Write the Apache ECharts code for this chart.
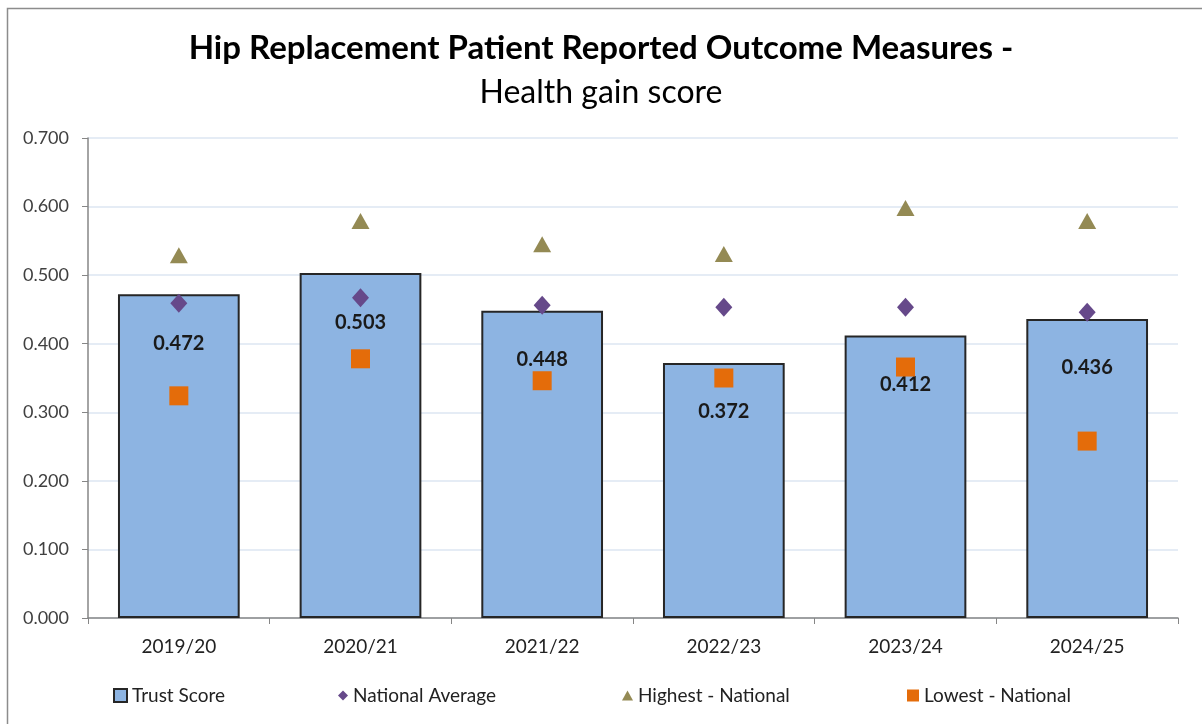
<!DOCTYPE html>
<html><head><meta charset="utf-8">
<script src="https://cdn.jsdelivr.net/npm/echarts@6/dist/echarts.min.js"></script>
<style>html,body{margin:0;padding:0;background:#fff}#c{width:1202px;height:724px}</style>
</head><body><div id="c"></div>
<script>
const categories = ['2019/20','2020/21','2021/22','2022/23','2023/24','2024/25'];
const trustScore = [0.472, 0.503, 0.448, 0.372, 0.412, 0.436];
const nationalAverage = [0.459, 0.467, 0.456, 0.453, 0.453, 0.446];
const highestNational = [0.529, 0.579, 0.545, 0.531, 0.598, 0.579];
const lowestNational = [0.324, 0.378, 0.346, 0.350, 0.366, 0.258];
const yTicks = [0, 0.1, 0.2, 0.3, 0.4, 0.5, 0.6, 0.7];

const font = 'Lato';
const chart = echarts.init(document.getElementById('c'));
function leg(name, icon, left, w, h) {
  return { data:[{name, icon}], left, top: 681, itemWidth: w, itemHeight: h, itemGap: 6,
    textStyle:{fontFamily:font, fontSize:19, color:'#222'}, selectedMode:false };
}
chart.setOption({
  animation:false,
  graphic:[{type:'rect', shape:{x:7.5,y:8.5,width:1200,height:720}, style:{fill:'none', stroke:'#8c8c8c', lineWidth:1.5}}],
  title:[
    {text:'Hip Replacement Patient Reported Outcome Measures -', left:'center', top:27, textStyle:{fontFamily:font, fontWeight:'bold', fontSize:33, color:'#000'}},
    {text:'Health gain score', left:'center', top:72, textStyle:{fontFamily:font, fontWeight:'normal', fontSize:32, color:'#000'}}
  ],
  legend:[
    leg('Trust Score','rect',108,13,13),
    leg('National Average','diamond',333,10,10),
    leg('Highest - National','triangle',617,11,10),
    leg('Lowest - National','rect',902,12,12)
  ],
  grid:{left:88, right:24, top:138, bottom:106},
  xAxis:{type:'category', data:categories,
    axisLine:{lineStyle:{color:'#868686', width:1.5}},
    axisTick:{show:true, length:6, lineStyle:{color:'#868686'}},
    axisLabel:{fontFamily:font, fontSize:19, color:'#222', margin:19}},
  yAxis:{type:'value', min:0, max:0.7, interval:0.1,
    axisLine:{show:true, lineStyle:{color:'#868686', width:1.5}},
    axisTick:{show:true, length:6, lineStyle:{color:'#868686'}},
    splitLine:{lineStyle:{color:'#dce6f2', width:1.5}},
    axisLabel:{fontFamily:font, fontSize:18, color:'#404040', margin:19,
      formatter: v => yTicks.some(t=>Math.abs(t-v)<1e-9) ? v.toFixed(3) : ''}},
  series:[
    {name:'Trust Score', type:'bar', data:trustScore, barCategoryGap:'33%',
     itemStyle:{color:'#8db4e2', borderColor:'#262626', borderWidth:2},
     label:{show:true, position:'insideTop', distance:39, formatter: p => p.value.toFixed(3),
       fontFamily:font, fontWeight:'bold', fontSize:20, color:'#1a1a1a'}, z:1},
    {name:'National Average', type:'scatter', data:nationalAverage, symbol:'diamond', symbolSize:[17,19],
     itemStyle:{color:'#66498a', opacity:1}, z:3},
    {name:'Highest - National', type:'scatter', data:highestNational, symbol:'triangle', symbolSize:[18,16],
     itemStyle:{color:'#948a54', opacity:1}, z:3},
    {name:'Lowest - National', type:'scatter', data:lowestNational, symbol:'rect', symbolSize:19,
     itemStyle:{color:'#e46c0a', opacity:1}, z:3}
  ]
});
</script></body></html>
